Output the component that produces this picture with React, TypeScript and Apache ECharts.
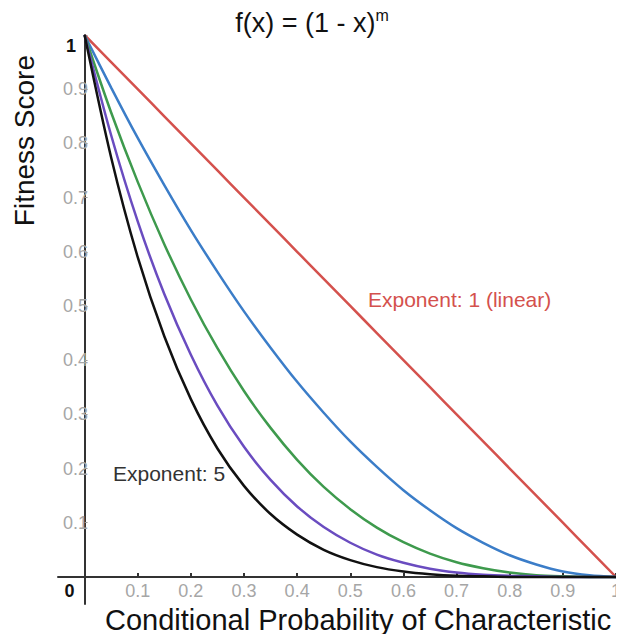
import React, { useEffect, useRef } from "react";
import * as echarts from "echarts";

const xValues = [0, 0.05, 0.1, 0.15, 0.2, 0.25, 0.3, 0.35, 0.4, 0.45, 0.5, 0.55, 0.6, 0.65, 0.7, 0.75, 0.8, 0.85, 0.9, 0.95, 1];
const exp1 = [1, 0.95, 0.9, 0.85, 0.8, 0.75, 0.7, 0.65, 0.6, 0.55, 0.5, 0.45, 0.4, 0.35, 0.3, 0.25, 0.2, 0.15, 0.1, 0.05, 0];
const exp2 = [1, 0.903, 0.81, 0.723, 0.64, 0.563, 0.49, 0.423, 0.36, 0.303, 0.25, 0.203, 0.16, 0.123, 0.09, 0.063, 0.04, 0.023, 0.01, 0.003, 0];
const exp3 = [1, 0.857, 0.729, 0.614, 0.512, 0.422, 0.343, 0.275, 0.216, 0.166, 0.125, 0.091, 0.064, 0.043, 0.027, 0.016, 0.008, 0.003, 0.001, 0, 0];
const exp4 = [1, 0.815, 0.656, 0.522, 0.41, 0.316, 0.24, 0.179, 0.13, 0.092, 0.063, 0.041, 0.026, 0.015, 0.008, 0.004, 0.002, 0.001, 0, 0, 0];
const exp5 = [1, 0.774, 0.59, 0.444, 0.328, 0.237, 0.168, 0.116, 0.078, 0.05, 0.031, 0.018, 0.01, 0.005, 0.002, 0.001, 0, 0, 0, 0, 0];
const tickValues = [0.1, 0.2, 0.3, 0.4, 0.5, 0.6, 0.7, 0.8, 0.9, 1];
const xLabelValues = [0, 0.1, 0.2, 0.3, 0.4, 0.5, 0.6, 0.7, 0.8, 0.9, 1];

const seriesDefs = [
  { name: "Exponent: 1", data: exp1, color: "#d4514d" },
  { name: "Exponent: 2", data: exp2, color: "#3b7dc8" },
  { name: "Exponent: 3", data: exp3, color: "#3e9a4d" },
  { name: "Exponent: 4", data: exp4, color: "#6a4cc0" },
  { name: "Exponent: 5", data: exp5, color: "#111111" },
];

const FONT = "'Liberation Sans', Arial, Helvetica, sans-serif";

export default function App() {
  const ref = useRef<HTMLDivElement>(null);
  useEffect(() => {
    if (!ref.current) return;
    const chart = echarts.init(ref.current, null, { renderer: "svg" });
    const option: any = {
      animation: false,
      backgroundColor: "#ffffff",
      textStyle: { fontFamily: FONT },
      title: {
        text: "f(x) = (1 - x){sup|m}",
        left: "center",
        top: 2,
        textStyle: {
          fontFamily: FONT,
          fontSize: 27,
          fontWeight: "normal",
          color: "#111",
          rich: {
            sup: { fontSize: 16, fontFamily: FONT, color: "#111", padding: [0, 0, 15, 0] },
          },
        },
      },
      grid: { left: 58, right: 4, top: 35, bottom: 38, containLabel: false },
      xAxis: {
        type: "value",
        min: -0.05,
        max: 1,
        axisLine: { show: true, onZero: true, lineStyle: { color: "#333", width: 2 } },
        axisTick: { show: true, inside: true, length: 4, customValues: tickValues, lineStyle: { color: "#333", width: 2 } },
        splitLine: { show: false },
        axisLabel: {
          customValues: xLabelValues,
          margin: -22,
          fontSize: 18,
          color: "#a6a6a6",
          fontFamily: FONT,
          formatter: (v: number) => (v === 0 ? "{z|0}" : String(Math.round(v * 10) / 10)),
          rich: {
            z: { color: "#111", fontSize: 18, fontWeight: "bold", fontFamily: FONT, padding: [0, 30, 0, 0] },
          },
        },
      },
      yAxis: {
        type: "value",
        min: -0.05,
        max: 1,
        axisLine: { show: true, onZero: true, lineStyle: { color: "#333", width: 2 } },
        axisTick: { show: true, inside: true, length: 3, customValues: tickValues, lineStyle: { color: "#999", width: 1 } },
        splitLine: { show: false },
        axisLabel: {
          customValues: tickValues,
          margin: -30,
          fontSize: 18,
          color: "#a6a6a6",
          fontFamily: FONT,
          formatter: (v: number) => (v === 1 ? "{o|1}" : String(Math.round(v * 10) / 10)),
          rich: {
            o: { color: "#111", fontSize: 18, fontWeight: "bold", fontFamily: FONT, padding: [22, 12, 0, 0] },
          },
        },
      },
      series: seriesDefs.map((s) => ({
        type: "line",
        name: s.name,
        data: xValues.map((x, i) => [x, s.data[i]]),
        smooth: 0.3,
        showSymbol: false,
        lineStyle: { color: s.color, width: 2.5 },
        itemStyle: { color: s.color },
      })),
      graphic: [
        {
          type: "text",
          left: 10,
          top: 55,
          rotation: Math.PI / 2,
          style: { text: "Fitness Score", fontSize: 28, fontFamily: FONT, fill: "#111" },
        },
        {
          type: "text",
          left: 105,
          top: 605,
          style: { text: "Conditional Probability of Characteristic", fontSize: 29, fontFamily: FONT, fill: "#111" },
        },
        {
          type: "text",
          left: 368,
          top: 289,
          style: { text: "Exponent: 1 (linear)", fontSize: 21, fontFamily: FONT, fill: "#d4514d" },
        },
        {
          type: "text",
          left: 113,
          top: 463,
          style: { text: "Exponent: 5", fontSize: 21, fontFamily: FONT, fill: "#333" },
        },
      ],
    };
    chart.setOption(option);
    return () => chart.dispose();
  }, []);
  return <div ref={ref} style={{ width: 624, height: 642, margin: -8 }} />;
}
